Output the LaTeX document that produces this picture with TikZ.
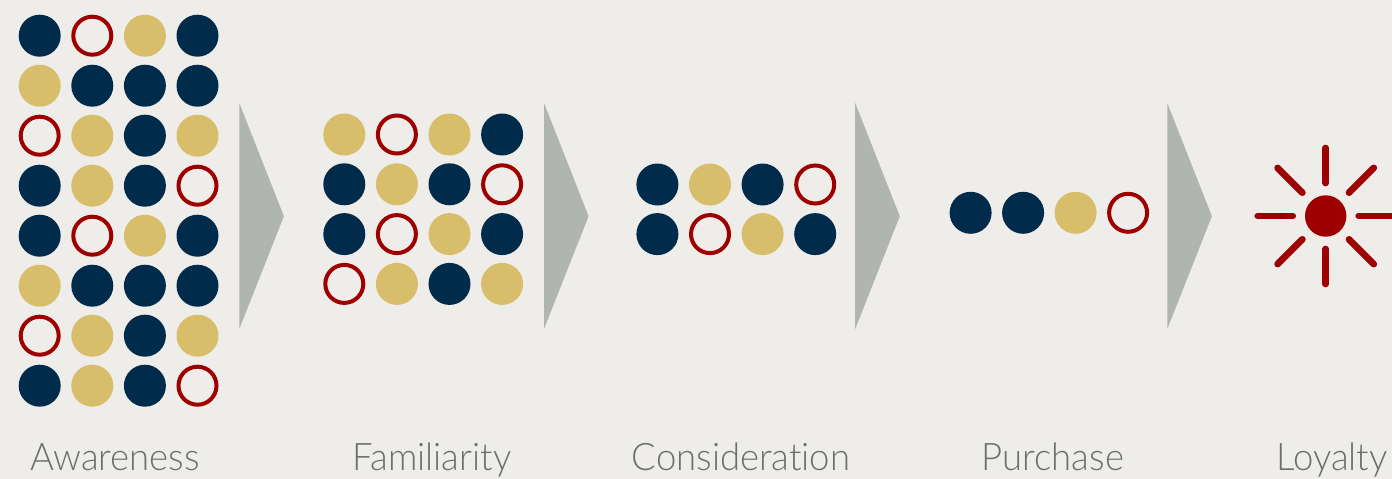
\documentclass[tikz,border=0pt]{standalone}
\usepackage{fontspec}
\newfontfamily\labelfont{Lato Light}[Ligatures=NoCommon, FakeStretch=0.96]
\usepackage{tikz}
\definecolor{navyblue}{HTML}{012B4A}
\definecolor{goldish}{HTML}{D8BD6A}
\definecolor{darkred}{HTML}{9E0000}
\definecolor{chevgray}{HTML}{B1B5AF}
\definecolor{bggray}{HTML}{EEEDEA}
\definecolor{labelgray}{HTML}{6C706C}
\tikzstyle{dot}=[
	circle,
	inner sep=0pt,
	outer sep=0pt,
	minimum size=42pt
]
\tikzstyle{navy}=[dot, fill=navyblue]
\tikzstyle{gold}=[dot, fill=goldish]
\tikzstyle{ring}=[dot, minimum size=38pt, draw=darkred, line width=4pt]
\tikzstyle{chevron}=[fill=chevgray]
\tikzstyle{stage}=[
	font=\labelfont\fontsize{38}{40}\selectfont,
	text=labelgray,
	anchor=base,
	inner sep=0pt
]
\tikzstyle{ray}=[draw=darkred, line width=6.7pt, line cap=round]

\begin{document}
\begin{tikzpicture}[x=1pt,y=-1pt]
\fill[bggray] (0,0) rectangle (1392,479);
\useasboundingbox (0,0) rectangle (1392,479);
% Awareness
\foreach \row [count=\r] in {{navy,ring,gold,navy},{gold,navy,navy,navy},{ring,gold,navy,gold},{navy,gold,navy,ring},{navy,ring,gold,navy},{gold,navy,navy,navy},{ring,gold,navy,gold},{navy,gold,navy,ring}}
	\foreach \s [count=\c] in \row
		\node [\s] (aw-\r-\c) at ({39.7+52.6*(\c-1)},{35.7+50*(\r-1)}) {};
% Familiarity
\foreach \row [count=\r] in {{gold,ring,gold,navy},{navy,gold,navy,ring},{navy,ring,gold,navy},{ring,gold,navy,gold}}
	\foreach \s [count=\c] in \row
		\node [\s] (fa-\r-\c) at ({344.3+52.6*(\c-1)},{134.5+49.8*(\r-1)}) {};
% Consideration
\foreach \row [count=\r] in {{navy,gold,navy,ring},{navy,ring,gold,navy}}
	\foreach \s [count=\c] in \row
		\node [\s] (co-\r-\c) at ({657.4+52.6*(\c-1)},{184.5+49.6*(\r-1)}) {};
% Purchase
\foreach \s [count=\c] in {navy,navy,gold,ring}
	\node [\s] (pu-\c) at ({970.6+52.5*(\c-1)},212.8) {};
% Loyalty
\node [dot, fill=darkred, minimum size=41.4pt] (sun) at (1325.7,216) {};
\foreach \a in {0,45,...,315}
	\draw [ray] ([shift={(\a:33)}]sun.center) -- ([shift={(\a:68)}]sun.center);
% chevrons
\foreach \x in {239.3,544,855.2,1167.3}
	\fill [chevron] (\x,103) -- (\x+44.6,216.2) -- (\x,329) -- cycle;
% labels
\node [stage] (awareness) at (115,470.7) {Awareness};
\node [stage] (familiarity) at (432,470.7) {Familiarity};
\node [stage] (consideration) at (741,470.7) {Consideration};
\node [stage] (purchase) at (1053,470.7) {Purchase};
\node [stage] (loyalty) at (1332,470.7) {Loyalty};
\end{tikzpicture}
\end{document}
